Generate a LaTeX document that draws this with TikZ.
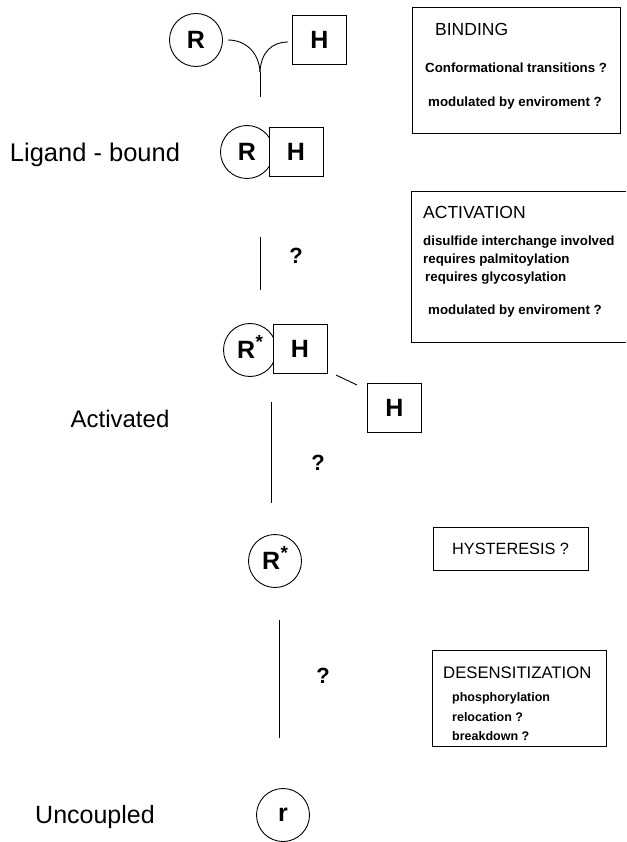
\documentclass[tikz,border=0pt]{standalone}
\usepackage{fontspec}
\setmainfont{Liberation Sans}
\newcommand{\rstar}{R\hspace{0.5pt}\raisebox{0.75ex}[0pt][0pt]{\fontsize{19}{19}\selectfont\bfseries *}}
\begin{document}
\begin{tikzpicture}[x=1pt,y=-1pt,
  circ/.style={circle, draw, line width=0.9pt, minimum size=53pt, inner sep=0pt, font=\fontsize{25}{25}\selectfont\bfseries},
  hbox/.style={rectangle, draw, fill=white, line width=0.9pt, minimum width=54pt, minimum height=49pt, inner sep=0pt, font=\fontsize{25}{25}\selectfont\bfseries},
  lbl/.style={inner sep=0pt, font=\fontsize{24}{24}\selectfont},
  qm/.style={inner sep=0pt, font=\fontsize{22}{22}\selectfont\bfseries},
  info/.style={rectangle, draw, line width=0.9pt, inner sep=0pt},
  head/.style={anchor=west, inner sep=0pt, font=\fontsize{17.5}{17.5}\selectfont},
  item/.style={anchor=west, inner sep=0pt, font=\fontsize{13.3}{13.3}\selectfont\bfseries},
  conn/.style={line width=0.9pt}
]
\useasboundingbox (0,0) rectangle (626,842);

% --- top: R and H with Y-junction
\node[circ] (r1) at (196,40) {R};
\node[hbox] (h1) at (319.5,40) {H};
\coordinate (yj) at (260,72);
\coordinate (yend) at (260,97);
\draw[conn] (r1.east) ++(5,0) coordinate (r1e) .. controls (245,40) and (259,52) .. (yj);
\draw[conn] (h1.west) ++(-4,2) coordinate (h1w) .. controls (272,42) and (261,52) .. (yj);
\draw[conn] (yj) -- (yend);

% --- Ligand-bound
\node[lbl, font=\fontsize{25.5}{25.5}\selectfont] (lb) at (95,155) {Ligand - bound};
\node[circ] (r2) at (247,152) {R};
\node[hbox] (h2) at (296,152) {H};

% --- first step
\coordinate (l1a) at (260,237);
\coordinate (l1b) at (260,290);
\draw[conn] (l1a) -- (l1b);
\node[qm] (q1) at (296,256) {?};

% --- R*H
\node[circ] (r3) at (250,350) {\rstar};
\node[hbox] (h3) at (300,349) {H};
\node[hbox] (h4) at (394.5,407.5) {H};
\coordinate (s1) at (336,375);
\coordinate (s2) at (357,385);
\draw[conn] (s1) -- (s2);

\node[lbl] (act) at (120,419) {Activated};

% --- second step
\coordinate (l2a) at (271,402);
\coordinate (l2b) at (271,503);
\draw[conn] (l2a) -- (l2b);
\node[qm] (q2) at (318,463) {?};

% --- R*
\node[circ] (r4) at (275,561) {\rstar};

% --- third step
\coordinate (l3a) at (279,620);
\coordinate (l3b) at (279,738);
\draw[conn] (l3a) -- (l3b);
\node[qm] (q3) at (323,676) {?};

% --- uncoupled
\node[circ] (r5) at (283,815) {r};
\node[lbl, font=\fontsize{25}{25}\selectfont] (unc) at (95,817) {Uncoupled};

% --- BINDING box
\node[info, minimum width=208pt, minimum height=126pt] (bind) at (516,70) {};
\node[head] (bindt) at (435,29) {BINDING};
\node[item] (bind1) at (425,68) {Conformational transitions ?};
\node[item] (bind2) at (428,103) {modulated by enviroment ?};

% --- ACTIVATION box (open to the right)
\node[minimum width=214pt, minimum height=150pt, inner sep=0pt] (actb) at (519,267) {};
\draw[conn] (actb.north east) -- (actb.north west) -- (actb.south west) -- (actb.south east);
\node[head] (actt) at (423,212) {ACTIVATION};
\node[item] (act1) at (423,242) {disulfide interchange involved};
\node[item] (act2) at (423,260) {requires palmitoylation};
\node[item] (act3) at (425,278) {requires glycosylation};
\node[item] (act4) at (428,311) {modulated by enviroment ?};

% --- HYSTERESIS box
\node[info, minimum width=155pt, minimum height=43pt] (hyst) at (510.5,548.5) {};
\node[head, font=\fontsize{16.3}{16.3}\selectfont] (hystt) at (452,549) {HYSTERESIS ?};

% --- DESENSITIZATION box
\node[info, minimum width=174pt, minimum height=96pt] (des) at (519,698) {};
\node[head, font=\fontsize{16.7}{16.7}\selectfont] (dest) at (443,673) {DESENSITIZATION};
\node[item, font=\fontsize{12.5}{12.5}\selectfont\bfseries] (des1) at (452,698) {phosphorylation};
\node[item, font=\fontsize{12.5}{12.5}\selectfont\bfseries] (des2) at (452,717) {relocation ?};
\node[item, font=\fontsize{12.5}{12.5}\selectfont\bfseries] (des3) at (452,736) {breakdown ?};
\end{tikzpicture}
\end{document}
